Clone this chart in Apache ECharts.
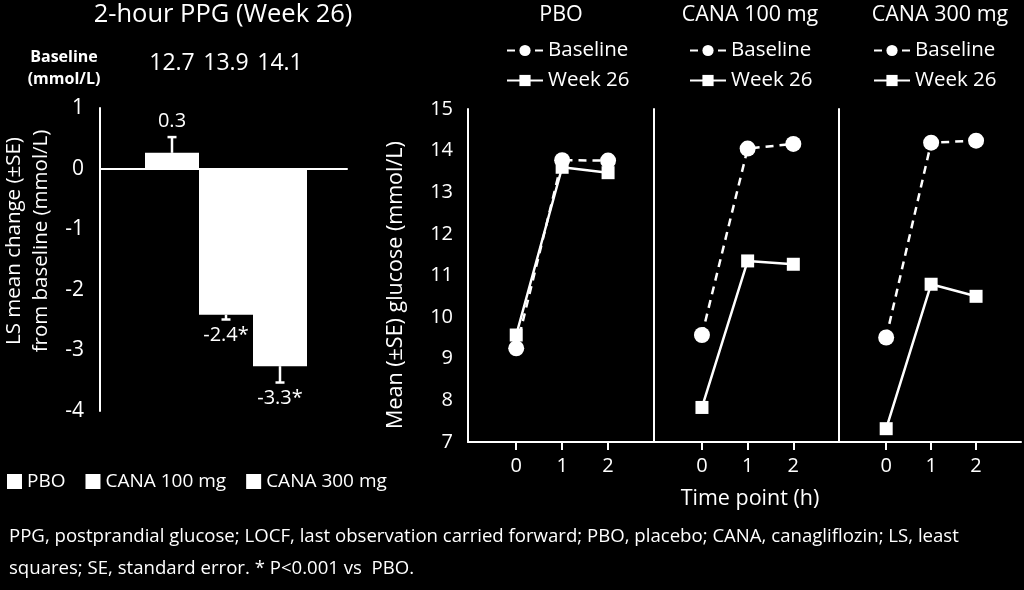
<!DOCTYPE html>
<html><head><meta charset="utf-8">
<script src="https://cdn.jsdelivr.net/npm/echarts@6/dist/echarts.min.js"></script>
<style>html,body{margin:0;padding:0;background:#000}#c{width:1024px;height:590px}</style>
</head><body><div id="c"></div>
<script>
// ---------- data ----------
const groups = ['PBO', 'CANA 100 mg', 'CANA 300 mg'];
const baselineMeans = ['12.7', '13.9', '14.1'];
const lsChange = [0.26, -2.41, -3.26];
const lsSE = [0.26, 0.08, 0.27];
const changeLabels = ['0.3', '-2.4*', '-3.3*'];
const timePoints = [0, 1, 2];
const baselineGlucose = [
  [9.25, 13.77, 13.76],
  [9.57, 14.05, 14.16],
  [9.51, 14.19, 14.24]
];
const week26Glucose = [
  [9.57, 13.6, 13.47],
  [7.83, 11.35, 11.27],
  [7.32, 10.79, 10.5]
];
const footnote = 'PPG, postprandial glucose; LOCF, last observation carried forward; PBO, placebo; CANA, canagliflozin; LS, least\nsquares; SE, standard error. * P<0.001 vs  PBO.';

// ---------- chart ----------
const FONT = 'Open Sans';
const W = '#fff';
const chart = echarts.init(document.getElementById('c'), null, {renderer: 'canvas'});

const panelLeft = [468, 654, 839];
const panelWidth = [186, 185, 182];
const panelCenters = [556, 745, 935];
const panelLegendLeft = [501, 684, 868];

const grids = [
  {left: 100, width: 247, top: 108, height: 303},
  {left: 145, width: 162, top: 108, height: 303}
];
panelLeft.forEach((l, i) => grids.push({left: l, width: panelWidth[i], top: 109, height: 333}));

const xAxes = [
  {gridIndex: 0, type: 'category', data: [''], axisLine: {onZero: true, lineStyle: {color: W, width: 2}}, axisTick: {show: false}, axisLabel: {show: false}},
  {gridIndex: 1, type: 'category', data: groups, show: false}
];
const yAxes = [
  {gridIndex: 0, type: 'value', min: -4, max: 1, interval: 1, axisLine: {show: true, onZero: false, lineStyle: {color: W, width: 2}},
   axisTick: {show: false}, splitLine: {show: false},
   axisLabel: {color: W, fontSize: 21, fontFamily: FONT, margin: 16}},
  {gridIndex: 1, type: 'value', min: -4, max: 1, show: false, splitLine: {show: false}}
];
panelLeft.forEach((l, i) => {
  xAxes.push({gridIndex: i + 2, type: 'value', min: -1.05, max: 3,
    axisLine: {show: true, onZero: false, lineStyle: {color: W, width: 2}},
    axisTick: {show: true, customValues: timePoints, length: 8, lineStyle: {color: W, width: 2}},
    axisLabel: {show: true, customValues: timePoints, color: W, fontSize: 20, fontFamily: FONT, margin: 14},
    splitLine: {show: false}});
  yAxes.push({gridIndex: i + 2, type: 'value', min: 7, max: 15, interval: 1,
    axisLine: {show: true, onZero: false, lineStyle: {color: W, width: 2}},
    axisTick: {show: false}, splitLine: {show: false},
    axisLabel: {show: i === 0, color: W, fontSize: 20, fontFamily: FONT, margin: 15}});
});

const series = [];
groups.forEach((g, i) => {
  series.push({
    name: g, type: 'bar', xAxisIndex: 1, yAxisIndex: 1, stack: 'ls', barWidth: '100%',
    itemStyle: {color: W},
    data: groups.map((_, j) => j === i ? lsChange[i] : '-')
  });
});
series.push({
  type: 'custom', xAxisIndex: 1, yAxisIndex: 1, z: 5,
  data: groups.map((_, i) => [i, lsChange[i], lsSE[i]]),
  renderItem: function (params, api) {
    const x = api.value(0), m = api.value(1), se = api.value(2);
    const end = m >= 0 ? m + se : m - se;
    const p0 = api.coord([x, m]), p1 = api.coord([x, end]);
    const dir = m >= 0 ? -1 : 1;
    return {type: 'group', children: [
      {type: 'line', shape: {x1: p0[0], y1: p0[1], x2: p1[0], y2: p1[1]}, style: {stroke: W, lineWidth: 2.5}},
      {type: 'line', shape: {x1: p1[0] - 4.5, y1: p1[1], x2: p1[0] + 4.5, y2: p1[1]}, style: {stroke: W, lineWidth: 2.5}},
      {type: 'text', x: p1[0], y: p1[1] + dir * 16,
       style: {text: changeLabels[params.dataIndex], fill: W, fontSize: 20, fontFamily: FONT, align: 'center', verticalAlign: 'middle'}}
    ]};
  }
});
for (let k = 0; k < 3; k++) {
  series.push({
    name: 'Baseline', type: 'line', xAxisIndex: k + 2, yAxisIndex: k + 2,
    symbol: 'circle', symbolSize: 16, z: 3,
    lineStyle: {color: W, width: 2.5, type: [8, 6]}, itemStyle: {color: W},
    data: timePoints.map((t, j) => [t, baselineGlucose[k][j]])
  });
  series.push({
    name: 'Week 26', type: 'line', xAxisIndex: k + 2, yAxisIndex: k + 2,
    symbol: 'rect', symbolSize: 13, z: 4,
    lineStyle: {color: W, width: 2.5}, itemStyle: {color: W},
    data: timePoints.map((t, j) => [t, week26Glucose[k][j]])
  });
}

const titles = [
  {text: '2-hour PPG (Week 26)', left: 218, top: -3, textAlign: 'center', textStyle: {color: W, fontSize: 25.5, fontWeight: 'normal', fontFamily: FONT}},
  {text: 'Baseline\n(mmol/L)', left: 59, top: 41, textAlign: 'center', textStyle: {color: W, fontSize: 16, fontWeight: 'bold', fontFamily: FONT, lineHeight: 22}},
  {text: footnote, left: 4, top: 516, textStyle: {color: W, fontSize: 18.6, fontWeight: 'normal', fontFamily: FONT, lineHeight: 32}}
];
groups.forEach((g, i) => titles.push({text: g, left: panelCenters[i], top: -1, textAlign: 'center',
  textStyle: {color: W, fontSize: 21.5, fontWeight: 'normal', fontFamily: FONT}}));

const legends = [
  {data: groups, left: 2, top: 467, icon: 'rect', itemWidth: 15, itemHeight: 15, itemGap: 20,
   textStyle: {color: W, fontSize: 19, fontFamily: FONT}, selectedMode: false}
];
panelLegendLeft.forEach(l => legends.push({
  data: ['Baseline', 'Week 26'], orient: 'vertical', left: l, top: 35, itemWidth: 36, itemHeight: 14, itemGap: 9,
  textStyle: {color: W, fontSize: 20.5, fontFamily: FONT}, selectedMode: false
}));

const graphics = [
  {type: 'text', x: 28, y: 241, rotation: Math.PI / 2,
   style: {text: 'LS mean change (±SE)\nfrom baseline (mmol/L)', fill: W, fontSize: 20.5, fontFamily: FONT, lineHeight: 27, align: 'center', verticalAlign: 'middle'}},
  {type: 'text', x: 396, y: 285, rotation: Math.PI / 2,
   style: {text: 'Mean (±SE) glucose (mmol/L)', fill: W, fontSize: 21.5, fontFamily: FONT, align: 'center', verticalAlign: 'middle'}},
  {type: 'text', x: 750, y: 499,
   style: {text: 'Time point (h)', fill: W, fontSize: 21.5, fontFamily: FONT, align: 'center', verticalAlign: 'middle'}}
];

chart.setOption({
  backgroundColor: '#000',
  animation: false,
  title: titles,
  legend: legends,
  grid: grids,
  xAxis: xAxes,
  yAxis: yAxes,
  series: series,
  graphic: graphics
});

// baseline means placed above each bar, positioned from the bar axis
const extra = baselineMeans.map((v, i) => {
  const p = chart.convertToPixel({xAxisIndex: 1, yAxisIndex: 1}, [i, 0]);
  return {type: 'text', x: p[0], y: 63,
    style: {text: v, fill: W, fontSize: 23, fontFamily: FONT, align: 'center', verticalAlign: 'middle'}};
});
chart.setOption({graphic: graphics.concat(extra)});
</script>
</body></html>
